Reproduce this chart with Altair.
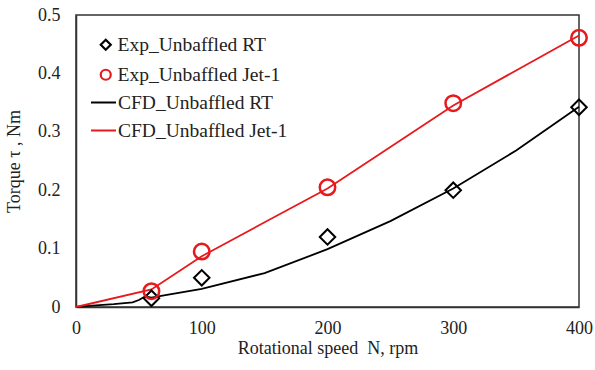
import altair as alt
import pandas as pd

exp_names = ["Exp_Unbaffled RT", "Exp_Unbaffled Jet-1"]
cfd_names = ["CFD_Unbaffled RT", "CFD_Unbaffled Jet-1"]
series_colors = ["#000000", "#e8191c"]
exp_shapes = ["diamond", "circle"]

exp_speed = [60, 100, 200, 300, 400]
exp_rt = [0.015, 0.050, 0.120, 0.200, 0.342]
exp_jet = [0.027, 0.095, 0.205, 0.349, 0.461]

cfd_rt_speed = [0, 10, 30, 45, 50, 55, 60, 70, 100, 150, 200, 250, 300, 350, 400]
cfd_rt = [0.0, 0.002, 0.005, 0.008, 0.012, 0.018, 0.016, 0.020, 0.031, 0.058, 0.099, 0.147, 0.203, 0.268, 0.343]

cfd_jet_speed = [0, 60, 100, 150, 200, 300, 400]
cfd_jet = [0.0, 0.030, 0.087, 0.145, 0.203, 0.345, 0.465]

pts_rt = pd.DataFrame({"N": exp_speed, "T": exp_rt, "series": exp_names[0]})
pts_jet = pd.DataFrame({"N": exp_speed, "T": exp_jet, "series": exp_names[1]})
lines = pd.DataFrame({
    "N": cfd_rt_speed + cfd_jet_speed,
    "T": cfd_rt + cfd_jet,
    "series": [cfd_names[0]] * len(cfd_rt_speed) + [cfd_names[1]] * len(cfd_jet_speed),
})

FONT = "Liberation Serif"

x = alt.X("N:Q", scale=alt.Scale(domain=[0, 400]),
          axis=alt.Axis(title="Rotational speed\u00a0\u00a0N, rpm", values=[0, 100, 200, 300, 400],
                        grid=False, ticks=False, labelFlush=False, labelPadding=12, titlePadding=2))
y = alt.Y("T:Q", scale=alt.Scale(domain=[0, 0.5]),
          axis=alt.Axis(title="Torque τ , Nm", values=[0, 0.1, 0.2, 0.3, 0.4, 0.5],
                        labelExpr="datum.value == 0 ? '0' : format(datum.value, '.1f')",
                        grid=False, ticks=False, labelFlush=False, labelPadding=16, titlePadding=14))

leg_common = dict(title=None, orient="none", labelFont=FONT, labelFontSize=19.5,
                  labelColor="#222222", padding=0, labelLimit=400)

color = alt.Color("series:N", scale=alt.Scale(domain=exp_names, range=series_colors),
                  legend=alt.Legend(legendX=20, legendY=20, symbolSize=100, symbolStrokeWidth=2.2,
                                    rowPadding=9, symbolFillColor="transparent", labelOffset=2,
                                    **leg_common))
shape = alt.Shape("series:N", scale=alt.Scale(domain=exp_names, range=exp_shapes), legend=None)
stroke = alt.Stroke("series:N", scale=alt.Scale(domain=cfd_names, range=series_colors),
                    legend=alt.Legend(legendX=14, legendY=74, symbolType="stroke", symbolSize=625,
                                      rowPadding=5, symbolStrokeWidth=2, labelOffset=1,
                                      **leg_common))

line_layer = alt.Chart(lines).mark_line(strokeWidth=1.8).encode(x=x, y=y, stroke=stroke)
rt_layer = alt.Chart(pts_rt).mark_point(filled=False, size=240, strokeWidth=2, opacity=1).encode(
    x=x, y=y, color=color, shape=shape)
jet_layer = alt.Chart(pts_jet).mark_point(filled=False, size=240, strokeWidth=2.5, opacity=1).encode(
    x=x, y=y, color=color, shape=shape)

chart = alt.layer(line_layer, rt_layer, jet_layer).properties(
    width=503, height=292,
    background="white",
    autosize=alt.AutoSizeParams(type="none"),
    padding={"left": 76, "top": 15, "right": 16, "bottom": 63},
).configure_view(stroke="#333333", strokeWidth=1.5).configure_axis(
    labelFont=FONT, labelFontSize=18, labelColor="#222222",
    titleFont=FONT, titleFontSize=18, titleFontWeight="normal", titleColor="#222222",
    domainColor="#333333", domainWidth=1.5,
).configure_legend(labelFont=FONT)

chart.save("out.html", embed_options={"renderer": "svg", "actions": False})
